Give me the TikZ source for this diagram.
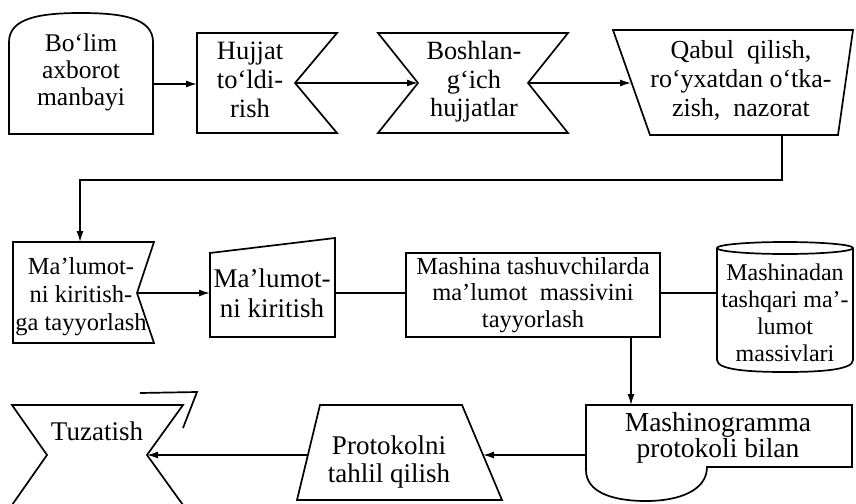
\documentclass[tikz,border=0pt]{standalone}
\usepackage{fontspec}
\setmainfont{Liberation Serif}
\usetikzlibrary{arrows.meta}
\newcommand\myfs[2]{\fontsize{#1}{#2}\selectfont}
\begin{document}
\begin{tikzpicture}[x=1pt,y=-1pt,line join=miter,
  shp/.style={draw,line width=1.7pt},
  arr/.style={-{Latex[length=11pt,width=7pt]},line width=1.4pt},
  lnk/.style={line width=1.4pt},
  txt/.style={align=center,inner sep=0pt,font=\myfs{26}{28}}]
\useasboundingbox (0,0) rectangle (856,503);
% shapes
\draw[shp] (9,134) -- (9,42) .. controls (9,18) and (40,13) .. (81,13) .. controls (122,13) and (153,18) .. (153,42) -- (153,134) -- cycle;
\draw[shp] (197,33) -- (337,33) -- (295,83) -- (337,133) -- (197,133) -- cycle;
\draw[shp] (378,33) -- (568,33) -- (528,83) -- (568,133) -- (378,133) -- (418,83) -- cycle;
\draw[shp] (613,30) -- (853,30) -- (838,135) -- (650,135) -- cycle;
\draw[shp] (13,242) -- (154,242) -- (137,293) -- (154,343) -- (13,343) -- cycle;
\draw[shp] (210,253) -- (335,238) -- (335,337) -- (210,337) -- cycle;
\draw[shp] (406,253) rectangle (660,337);
\draw[shp] (717,248) -- (717,360) .. controls (717,370) and (750,372) .. (785,372) .. controls (820,372) and (853,370) .. (853,360) -- (853,248);
\draw[shp] (785,248) ellipse [x radius=68,y radius=6];
\draw[shp] (586,405) -- (852,405) -- (852,467) -- (707,467) .. controls (707,490) and (680,501) .. (646,501) .. controls (612,501) and (586,492) .. (586,470) -- cycle;
\draw[shp] (320,405) -- (462,405) -- (502,500) -- (297,500) -- cycle;
\draw[shp] (12,505) -- (47,455) -- (12,405) -- (183,405) -- (147,455) -- (183,505);
\draw[shp] (140,393) -- (197,392) -- (183,428);
% texts
\node[txt,font=\myfs{25.5}{27}] (t1) at (81,72) {Bo‘lim\\axborot\\manbayi};
\node[txt,font=\myfs{26.5}{29}] (t2) at (250,80) {Hujjat\\to‘ldi-\\rish};
\node[txt,font=\myfs{26.3}{28.5}] (t3) at (474,82) {Boshlan-\\g‘ich\\hujjatlar};
\node[txt,font=\myfs{26}{29}] (t4) at (741,80) {Qabul\ \ qilish,\\ro‘yxatdan o‘tka-\\zish,\ \ nazorat};
\node[txt,font=\myfs{24.5}{28}] (t5) at (81,297) {Ma’lumot-\\ni kiritish-\\ga tayyorlash};
\node[txt,font=\myfs{27}{30}] (t6) at (272,293) {Ma’lumot-\\ni kiritish};
\node[txt,font=\myfs{24.5}{26.5}] (t7) at (533,295) {Mashina tashuvchilarda\\ma’lumot\ \ massivini\\tayyorlash};
\node[txt,font=\myfs{24}{27}] (t8) at (785,313) {Mashinadan\\tashqari ma’-\\lumot\\massivlari};
\node[txt,font=\myfs{27.5}{26.5}] (t9) at (718,438) {Mashinogramma\\protokoli bilan};
\node[txt,font=\myfs{27}{28}] (t10) at (389,462) {Protokolni\\tahlil qilish};
\node[txt,font=\myfs{27}{28}] (t11) at (97,431) {Tuzatish};
% connection points
\coordinate (p1o) at (153,84);  \coordinate (p2i) at (197,84);
\coordinate (p2o) at (295,83);  \coordinate (p3i) at (418,83);
\coordinate (p3o) at (528,83);  \coordinate (p4i) at (631,83);
\coordinate (p4o) at (782,135); \coordinate (p5i) at (80,242);
\coordinate (p5o) at (137,293); \coordinate (p6i) at (210,293);
\coordinate (p6o) at (335,293); \coordinate (p7i) at (406,293);
\coordinate (p7o) at (660,293); \coordinate (p8i) at (717,293);
\coordinate (p7b) at (631,337); \coordinate (p9i) at (631,405);
\coordinate (p9o) at (586,455); \coordinate (p10i) at (483,455);
\coordinate (p10o) at (308,455); \coordinate (p11i) at (147,455);
% connectors
\draw[arr] (p1o) -- (p2i);
\draw[arr] (p2o) -- (p3i);
\draw[arr] (p3o) -- (p4i);
\draw[arr] (p4o) -- (782,180) -| (p5i);
\draw[arr] (p5o) -- (p6i);
\draw[lnk] (p6o) -- (p7i);
\draw[lnk] (p7o) -- (p8i);
\draw[arr] (p7b) -- (p9i);
\draw[arr] (p9o) -- (p10i);
\draw[arr] (p10o) -- (p11i);
\end{tikzpicture}
\end{document}
